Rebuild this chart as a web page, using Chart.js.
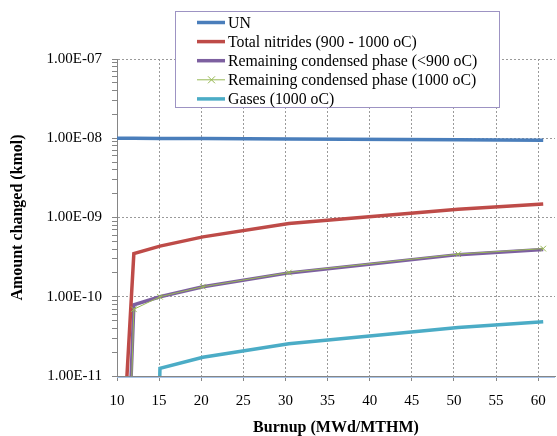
<!DOCTYPE html>
<html><head><meta charset="utf-8">
<script src="https://cdn.jsdelivr.net/npm/chart.js@4.4.1/dist/chart.umd.min.js"></script>
<style>html,body{margin:0;padding:0;background:#fff;overflow:hidden;}canvas{display:block;}</style>
</head><body>
<canvas id="c" width="560" height="436"></canvas>
<script>
// ---- data ----
const burnup = [10, 12, 15.1, 20.2, 30.4, 50.5, 60.6];
const unValues = [1.0e-8, 1.0e-8, 9.95e-9, 9.9e-9, 9.75e-9, 9.55e-9, 9.45e-9];
const totalNitrides = [6e-14, 3.5e-10, 4.35e-10, 5.7e-10, 8.4e-10, 1.27e-9, 1.48e-9];
const condensedBelow900 = [2e-16, 7.9e-11, 1.0e-10, 1.34e-10, 2.0e-10, 3.4e-10, 3.95e-10];
const condensed1000 = [7e-18, 6.95e-11, 1.0e-10, 1.34e-10, 2.02e-10, 3.45e-10, 4.05e-10];
const gases = [1e-25, 1e-25, 1.25e-11, 1.72e-11, 2.55e-11, 4.1e-11, 4.85e-11];
const seriesLabels = ['UN', 'Total nitrides (900 - 1000 oC)', 'Remaining condensed phase (<900 oC)', 'Remaining condensed phase (1000 oC)', 'Gases (1000 oC)'];
const xTickValues = [10, 15, 20, 25, 30, 35, 40, 45, 50, 55, 60];
const yMajorValues = [1e-11, 1e-10, 1e-9, 1e-8, 1e-7];
const yTickLabels = ['1.00E-11', '1.00E-10', '1.00E-09', '1.00E-08', '1.00E-07'];
const xTitle = 'Burnup (MWd/MTHM)';
const yTitle = 'Amount changed (kmol)';

const pts = vals => burnup.map((x, i) => ({x: x, y: vals[i]}));
const SERIF = '"Liberation Serif", "Times New Roman", serif';

function isMajor(v) {
  return yMajorValues.some(m => Math.abs(v / m - 1) < 1e-6);
}

const legendPlugin = {
  id: 'boxLegend',
  afterDraw(chart) {
    const ctx = chart.ctx;
    const ca = chart.chartArea;
    ctx.save();
    // light blue edge under the category axis
    ctx.strokeStyle = '#a9c4e8';
    ctx.lineWidth = 1;
    ctx.beginPath(); ctx.moveTo(ca.left, Math.round(ca.bottom) + 1.5); ctx.lineTo(ca.right, Math.round(ca.bottom) + 1.5); ctx.stroke();
    // legend box
    ctx.fillStyle = '#ffffff';
    ctx.fillRect(175.5, 11.5, 324, 96);
    ctx.strokeStyle = '#9d93c3';
    ctx.lineWidth = 1;
    ctx.strokeRect(175.5, 11.5, 324, 96);
    chart.data.datasets.forEach((ds, i) => {
      const y = 22.5 + i * 19.1;
      ctx.strokeStyle = ds.borderColor;
      ctx.lineWidth = ds.borderWidth;
      ctx.beginPath(); ctx.moveTo(197, y); ctx.lineTo(225, y); ctx.stroke();
      if (ds.pointStyle === 'crossRot') {
        ctx.lineWidth = 1;
        ctx.beginPath();
        ctx.moveTo(208, y - 3.5); ctx.lineTo(215, y + 3.5);
        ctx.moveTo(215, y - 3.5); ctx.lineTo(208, y + 3.5);
        ctx.stroke();
      }
      ctx.fillStyle = '#000';
      ctx.font = '15.8px ' + SERIF;
      ctx.textBaseline = 'middle';
      ctx.textAlign = 'left';
      ctx.fillText(ds.label, 228, y + 1);
    });
    ctx.restore();
  }
};

const gridColor = '#9a9a9a';
const axisColor = '#868686';

new Chart(document.getElementById('c'), {
  type: 'line',
  data: {
    datasets: [
      {label: seriesLabels[0], data: pts(unValues), borderColor: '#4a7ebb', backgroundColor: '#4a7ebb', borderWidth: 3.5, pointRadius: 0, order: 1},
      {label: seriesLabels[1], data: pts(totalNitrides), borderColor: '#be4b48', backgroundColor: '#be4b48', borderWidth: 3.5, pointRadius: 0, order: 1},
      {label: seriesLabels[2], data: pts(condensedBelow900), borderColor: '#7d60a0', backgroundColor: '#7d60a0', borderWidth: 3.5, pointRadius: 0, order: 1},
      {label: seriesLabels[3], data: pts(condensed1000), borderColor: '#98b954', backgroundColor: '#98b954', borderWidth: 1, pointStyle: 'crossRot', pointRadius: 4, pointBorderWidth: 1, order: 0},
      {label: seriesLabels[4], data: pts(gases), borderColor: '#4bacc6', backgroundColor: '#4bacc6', borderWidth: 3.5, pointRadius: 0, order: 1}
    ]
  },
  options: {
    responsive: false,
    animation: false,
    events: [],
    layout: {padding: {top: 59, right: 1, bottom: 0, left: 0}},
    plugins: {legend: {display: false}, tooltip: {enabled: false}},
    scales: {
      x: {
        type: 'linear', min: 10, max: 62,
        afterBuildTicks: s => { s.ticks = xTickValues.map(v => ({value: v})); },
        afterFit: s => { s.height = 60; },
        grid: {color: gridColor, lineWidth: 1, tickColor: axisColor, tickLength: 5, drawTicks: true},
        border: {display: true, color: axisColor, width: 1, dash: [2, 2]},
        ticks: {color: '#000', padding: 11, maxRotation: 0, autoSkip: false, font: {family: SERIF, size: 15}, callback: v => String(v)},
        title: {display: true, text: xTitle, color: '#000', font: {family: SERIF, size: 16, weight: 'bold', lineHeight: 1}, padding: {top: 0, bottom: 0}}
      },
      y: {
        type: 'logarithmic', min: 1e-11, max: 1e-7,
        afterBuildTicks: s => {
          const t = [];
          for (let e = -11; e < -7; e++) {
            for (let m = 1; m <= 9; m++) t.push({value: m * Math.pow(10, e), major: m === 1});
          }
          t.push({value: 1e-7, major: true});
          s.ticks = t;
        },
        afterFit: s => { s.width = 117; },
        grid: {
          color: c => (c.tick && isMajor(c.tick.value)) ? gridColor : 'rgba(0,0,0,0)',
          lineWidth: 1, tickColor: axisColor, tickLength: 5, drawTicks: true
        },
        border: {display: true, color: axisColor, width: 1, dash: [2, 2]},
        ticks: {
          color: '#000', padding: 10, autoSkip: false, font: {family: SERIF, size: 15},
          callback: v => { const i = yMajorValues.findIndex(m => Math.abs(v / m - 1) < 1e-6); return i >= 0 ? yTickLabels[i] : ''; }
        },
        title: {display: true, text: yTitle, color: '#000', font: {family: SERIF, size: 16, weight: 'bold', lineHeight: 1}, padding: {top: 10, bottom: 0}}
      }
    }
  },
  plugins: [legendPlugin]
});
</script>
</body></html>
